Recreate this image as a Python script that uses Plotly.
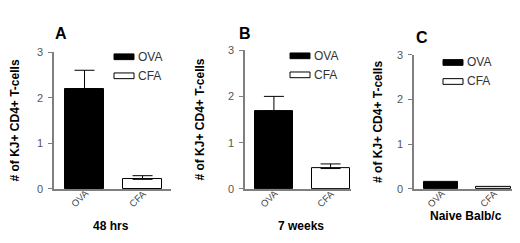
import plotly.graph_objects as go

categories = ["OVA", "CFA"]
panel_letters = ["A", "B", "C"]
panel_groups = ["48 hrs", "7 weeks", "Naive Balb/c"]
values_a = [2.2, 0.21]
errors_a = [0.40, 0.08]
values_b = [1.68, 0.44]
errors_b = [0.32, 0.10]
values_c = [0.15, 0.04]
errors_c = [0.0, 0.0]
y_ticks = [0, 1, 2, 3]
y_title = "# of KJ+ CD4+ T-cells"

W, H = 520, 243
def px(x):
    return x / W
def py(y):
    return 1 - y / H

fig = go.Figure()
panels = [
    dict(vals=values_a, errs=errors_a, xl=46, xr=163, y3=40, y0=184, xr_=[-0.526, 1.49], bw=0.67,
         letter=(53, 20), group=(103, 223), leg=(106, 45), title_sf=20),
    dict(vals=values_b, errs=errors_b, xl=237, xr=343, y3=38, y0=184, xr_=[-0.51, 1.36], bw=0.67,
         letter=(237, 21), group=(293, 223), leg=(282, 44), title_sf=21),
    dict(vals=values_c, errs=errors_c, xl=406, xr=505, y3=43, y0=184, xr_=[-0.51, 1.37], bw=0.65,
         letter=(414, 25), group=(458, 213), leg=(435, 51), title_sf=12),
]

layout = {}
annotations = []
shapes = []
axis_col = "#7f7f7f"
font_fam = "Liberation Sans, Arial, sans-serif"
for i, p in enumerate(panels):
    n = "" if i == 0 else str(i + 1)
    xa = "x" + n
    ya = "y" + n
    show_err = any(e > 0 for e in p["errs"])
    fig.add_trace(go.Bar(
        x=[0, 1], y=p["vals"], xaxis=xa, yaxis=ya, width=p["bw"],
        marker=dict(color=["black", "white"], line=dict(color="black", width=1)),
        error_y=dict(type="data", symmetric=False, array=p["errs"], arrayminus=[0, 0],
                     color="black", thickness=1, width=10, visible=show_err),
        showlegend=False, hoverinfo="skip",
    ))
    layout["xaxis" + n] = dict(
        domain=[px(p["xl"]), px(p["xr"])], range=p["xr_"], anchor=ya,
        showticklabels=False,
        showline=True, linecolor=axis_col, linewidth=1.5, ticks="", showgrid=False,
        zeroline=False, fixedrange=True,
    )
    layout["yaxis" + n] = dict(
        domain=[py(p["y0"]), py(p["y3"])], range=[0, 3], anchor=xa,
        tickmode="array", tickvals=y_ticks, ticks="outside", ticklen=4, tickcolor=axis_col,
        showline=True, linecolor=axis_col, linewidth=1.5, showgrid=False, zeroline=False,
        tickfont=dict(family=font_fam, size=11, color="#555"), ticklabelstandoff=3,
        title=dict(text="<b>" + y_title + "</b>", font=dict(family=font_fam, size=12, color="black"),
                   standoff=p["title_sf"]),
    )
    # category labels, rotated
    for k, cat in enumerate(categories):
        annotations.append(dict(text=cat, x=k, xref=xa, y=py(p["y0"] + 10), yref="paper",
                                showarrow=False, textangle=-45, xanchor="center", yanchor="middle",
                                xshift=-5, font=dict(family=font_fam, size=9.5, color="#444")))
    annotations.append(dict(text="<b>" + panel_letters[i] + "</b>", x=px(p["letter"][0]), y=py(p["letter"][1]),
                            xref="paper", yref="paper", showarrow=False, xanchor="center", yanchor="middle",
                            font=dict(family=font_fam, size=16, color="black")))
    annotations.append(dict(text="<b>" + panel_groups[i] + "</b>", x=px(p["group"][0]), y=py(p["group"][1]),
                            xref="paper", yref="paper", showarrow=False, xanchor="center", yanchor="middle",
                            font=dict(family=font_fam, size=12, color="black")))
    lx, ly = p["leg"]
    for j, (name, col) in enumerate(zip(categories, ["black", "white"])):
        yy = ly + j * 20
        shapes.append(dict(type="rect", xref="paper", yref="paper",
                           x0=px(lx), x1=px(lx + 20), y0=py(yy - 3), y1=py(yy + 3),
                           fillcolor=col, line=dict(color="black", width=1)))
        annotations.append(dict(text=name, x=px(lx + 22), y=py(yy), xref="paper", yref="paper",
                                showarrow=False, xanchor="left", yanchor="middle",
                                font=dict(family=font_fam, size=12, color="#333")))

fig.update_layout(
    width=W, height=H, margin=dict(l=0, r=0, t=0, b=0),
    paper_bgcolor="white", plot_bgcolor="white",
    annotations=annotations, shapes=shapes, bargap=0,
    **layout,
)
fig.write_html("out.html")
